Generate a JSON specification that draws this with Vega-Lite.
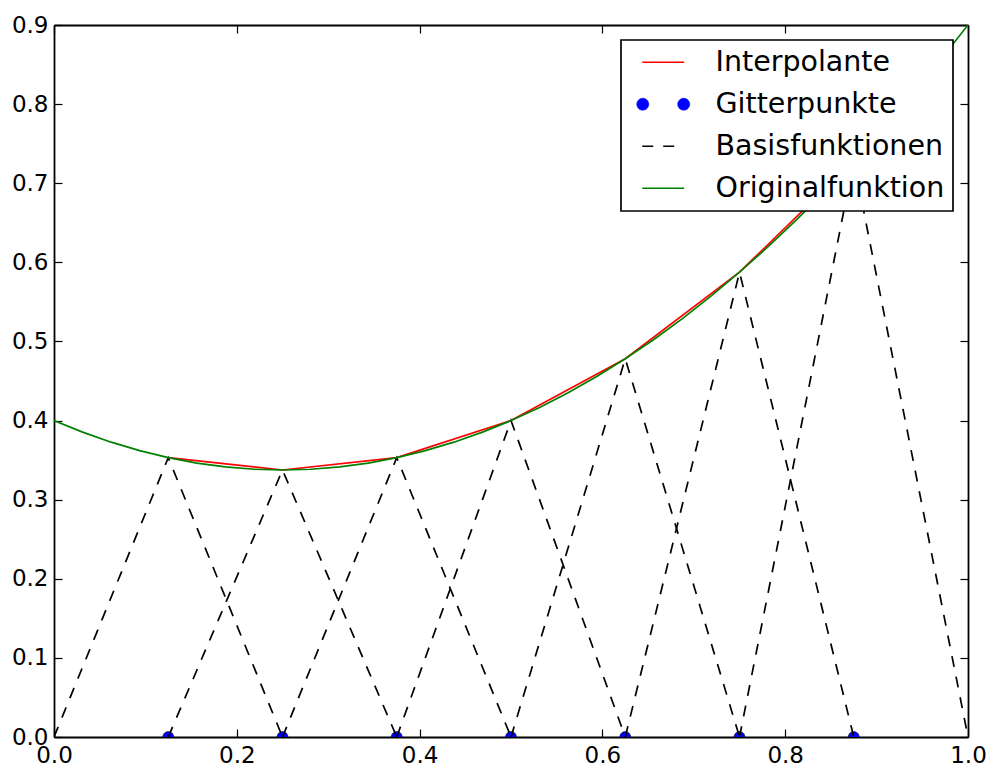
{
  "$schema": "https://vega.github.io/schema/vega-lite/v6.json",
  "autosize": {"type": "none"},
  "padding": {"left": 54, "top": 25, "right": 24, "bottom": 30},
  "width": 914,
  "height": 712,
  "background": "white",
  "config": {
    "view": {"stroke": null},
    "axis": {
      "grid": false,
      "domainColor": "black",
      "domainWidth": 1.8,
      "tickColor": "black",
      "tickWidth": 1.2,
      "tickSize": -8,
      "labelFont": "DejaVu Sans",
      "labelFontSize": 23,
      "labelColor": "black",
      "title": null
    }
  },
  "data": {
    "values": [
      {"series": "Interpolante", "x": 0.125, "y": 0.35313, "g": "i"},
      {"series": "Interpolante", "x": 0.25, "y": 0.3375, "g": "i"},
      {"series": "Interpolante", "x": 0.375, "y": 0.35313, "g": "i"},
      {"series": "Interpolante", "x": 0.5, "y": 0.4, "g": "i"},
      {"series": "Interpolante", "x": 0.625, "y": 0.47813, "g": "i"},
      {"series": "Interpolante", "x": 0.75, "y": 0.5875, "g": "i"},
      {"series": "Interpolante", "x": 0.875, "y": 0.72813, "g": "i"},
      {"series": "Gitterpunkte", "x": 0.125, "y": 0, "g": "p"},
      {"series": "Gitterpunkte", "x": 0.25, "y": 0, "g": "p"},
      {"series": "Gitterpunkte", "x": 0.375, "y": 0, "g": "p"},
      {"series": "Gitterpunkte", "x": 0.5, "y": 0, "g": "p"},
      {"series": "Gitterpunkte", "x": 0.625, "y": 0, "g": "p"},
      {"series": "Gitterpunkte", "x": 0.75, "y": 0, "g": "p"},
      {"series": "Gitterpunkte", "x": 0.875, "y": 0, "g": "p"},
      {"series": "Basisfunktionen", "x": 0.0, "y": 0, "g": "b1"},
      {"series": "Basisfunktionen", "x": 0.125, "y": 0.35313, "g": "b1"},
      {"series": "Basisfunktionen", "x": 0.25, "y": 0, "g": "b1"},
      {"series": "Basisfunktionen", "x": 0.125, "y": 0, "g": "b2"},
      {"series": "Basisfunktionen", "x": 0.25, "y": 0.3375, "g": "b2"},
      {"series": "Basisfunktionen", "x": 0.375, "y": 0, "g": "b2"},
      {"series": "Basisfunktionen", "x": 0.25, "y": 0, "g": "b3"},
      {"series": "Basisfunktionen", "x": 0.375, "y": 0.35313, "g": "b3"},
      {"series": "Basisfunktionen", "x": 0.5, "y": 0, "g": "b3"},
      {"series": "Basisfunktionen", "x": 0.375, "y": 0, "g": "b4"},
      {"series": "Basisfunktionen", "x": 0.5, "y": 0.4, "g": "b4"},
      {"series": "Basisfunktionen", "x": 0.625, "y": 0, "g": "b4"},
      {"series": "Basisfunktionen", "x": 0.5, "y": 0, "g": "b5"},
      {"series": "Basisfunktionen", "x": 0.625, "y": 0.47813, "g": "b5"},
      {"series": "Basisfunktionen", "x": 0.75, "y": 0, "g": "b5"},
      {"series": "Basisfunktionen", "x": 0.625, "y": 0, "g": "b6"},
      {"series": "Basisfunktionen", "x": 0.75, "y": 0.5875, "g": "b6"},
      {"series": "Basisfunktionen", "x": 0.875, "y": 0, "g": "b6"},
      {"series": "Basisfunktionen", "x": 0.75, "y": 0, "g": "b7"},
      {"series": "Basisfunktionen", "x": 0.875, "y": 0.72813, "g": "b7"},
      {"series": "Basisfunktionen", "x": 1.0, "y": 0, "g": "b7"},
      {"series": "Originalfunktion", "x": 0.0, "y": 0.4, "g": "o"},
      {"series": "Originalfunktion", "x": 0.03125, "y": 0.38535, "g": "o"},
      {"series": "Originalfunktion", "x": 0.0625, "y": 0.37266, "g": "o"},
      {"series": "Originalfunktion", "x": 0.09375, "y": 0.36191, "g": "o"},
      {"series": "Originalfunktion", "x": 0.125, "y": 0.35313, "g": "o"},
      {"series": "Originalfunktion", "x": 0.15625, "y": 0.34629, "g": "o"},
      {"series": "Originalfunktion", "x": 0.1875, "y": 0.34141, "g": "o"},
      {"series": "Originalfunktion", "x": 0.21875, "y": 0.33848, "g": "o"},
      {"series": "Originalfunktion", "x": 0.25, "y": 0.3375, "g": "o"},
      {"series": "Originalfunktion", "x": 0.28125, "y": 0.33848, "g": "o"},
      {"series": "Originalfunktion", "x": 0.3125, "y": 0.34141, "g": "o"},
      {"series": "Originalfunktion", "x": 0.34375, "y": 0.34629, "g": "o"},
      {"series": "Originalfunktion", "x": 0.375, "y": 0.35313, "g": "o"},
      {"series": "Originalfunktion", "x": 0.40625, "y": 0.36191, "g": "o"},
      {"series": "Originalfunktion", "x": 0.4375, "y": 0.37266, "g": "o"},
      {"series": "Originalfunktion", "x": 0.46875, "y": 0.38535, "g": "o"},
      {"series": "Originalfunktion", "x": 0.5, "y": 0.4, "g": "o"},
      {"series": "Originalfunktion", "x": 0.53125, "y": 0.4166, "g": "o"},
      {"series": "Originalfunktion", "x": 0.5625, "y": 0.43516, "g": "o"},
      {"series": "Originalfunktion", "x": 0.59375, "y": 0.45566, "g": "o"},
      {"series": "Originalfunktion", "x": 0.625, "y": 0.47813, "g": "o"},
      {"series": "Originalfunktion", "x": 0.65625, "y": 0.50254, "g": "o"},
      {"series": "Originalfunktion", "x": 0.6875, "y": 0.52891, "g": "o"},
      {"series": "Originalfunktion", "x": 0.71875, "y": 0.55723, "g": "o"},
      {"series": "Originalfunktion", "x": 0.75, "y": 0.5875, "g": "o"},
      {"series": "Originalfunktion", "x": 0.78125, "y": 0.61973, "g": "o"},
      {"series": "Originalfunktion", "x": 0.8125, "y": 0.65391, "g": "o"},
      {"series": "Originalfunktion", "x": 0.84375, "y": 0.69004, "g": "o"},
      {"series": "Originalfunktion", "x": 0.875, "y": 0.72813, "g": "o"},
      {"series": "Originalfunktion", "x": 0.90625, "y": 0.76816, "g": "o"},
      {"series": "Originalfunktion", "x": 0.9375, "y": 0.81016, "g": "o"},
      {"series": "Originalfunktion", "x": 0.96875, "y": 0.8541, "g": "o"},
      {"series": "Originalfunktion", "x": 1.0, "y": 0.9, "g": "o"}
    ]
  },
  "resolve": {"axis": {"x": "independent", "y": "independent"}},
  "layer": [
    {
      "transform": [{"filter": "datum.series === 'Interpolante'"}],
      "mark": {"type": "line", "strokeWidth": 1.7, "clip": true},
      "encoding": {
        "x": {"field": "x", "type": "quantitative",
              "scale": {"domain": [0, 1], "nice": false, "zero": false},
              "axis": {"orient": "bottom", "values": [0, 0.2, 0.4, 0.6, 0.8, 1.0], "format": ".1f", "labelPadding": 15, "labelFlush": false}},
        "y": {"field": "y", "type": "quantitative",
              "scale": {"domain": [0, 0.9], "nice": false, "zero": false},
              "axis": {"orient": "left", "values": [0, 0.1, 0.2, 0.3, 0.4, 0.5, 0.6, 0.7, 0.8, 0.9], "format": ".1f", "labelPadding": 14, "labelFlush": false}},
        "detail": {"field": "g"},
        "color": {
          "field": "series", "type": "nominal",
          "scale": {"domain": ["Interpolante", "Gitterpunkte", "Basisfunktionen", "Originalfunktion"],
                    "range": ["#ff0000", "#0000ff", "#000000", "#008000"]},
          "legend": {
            "orient": "none", "legendX": 567, "legendY": 15,
            "title": null,
            "padding": 8,
            "symbolSize": 441,
            "symbolOffset": 20,
            "labelOffset": 38,
            "rowPadding": 13,
            "labelFont": "DejaVu Sans",
            "labelFontSize": 28.5,
            "labelColor": "black",
            "labelLimit": 0,
            "strokeColor": "black",
            "fillColor": "white",
            "cornerRadius": 0,
            "symbolStrokeWidth": 1.7,
            "encode": {
              "legend": {"update": {"strokeWidth": {"value": 1.7}}},
              "symbols": {"update": {
                "shape": {"signal": "datum.value === 'Gitterpunkte' ? 'M-2.52,0a0.57,0.57 0 1,0 1.14,0a0.57,0.57 0 1,0 -1.14,0M1.38,0a0.57,0.57 0 1,0 1.14,0a0.57,0.57 0 1,0 -1.14,0' : 'M-2,0L2,0'"},
                "fill": {"signal": "datum.value === 'Gitterpunkte' ? '#0000ff' : 'transparent'"},
                "stroke": {"signal": "datum.value === 'Gitterpunkte' ? '#000000' : datum.value === 'Interpolante' ? '#ff0000' : datum.value === 'Originalfunktion' ? '#008000' : '#000000'"},
                "strokeWidth": {"signal": "datum.value === 'Gitterpunkte' ? 0.6 : 1.7"},
                "strokeDash": {"signal": "datum.value === 'Basisfunktionen' ? [11, 10] : [1, 0]"},
                "opacity": {"value": 1}
              }}
            }
          }
        }
      }
    },
    {
      "transform": [{"filter": "datum.series === 'Gitterpunkte'"}],
      "mark": {"type": "point", "shape": "circle", "filled": true, "size": 120, "stroke": "black", "strokeWidth": 0.6, "opacity": 1, "clip": true},
      "encoding": {
        "x": {"field": "x", "type": "quantitative", "axis": null},
        "y": {"field": "y", "type": "quantitative", "axis": null},
        "color": {"field": "series", "type": "nominal"}
      }
    },
    {
      "transform": [{"filter": "datum.series === 'Basisfunktionen'"}],
      "mark": {"type": "line", "strokeWidth": 1.7, "strokeDash": [11, 10], "clip": true},
      "encoding": {
        "x": {"field": "x", "type": "quantitative", "axis": null},
        "y": {"field": "y", "type": "quantitative", "axis": null},
        "detail": {"field": "g"},
        "color": {"field": "series", "type": "nominal"}
      }
    },
    {
      "transform": [{"filter": "datum.series === 'Originalfunktion'"}],
      "mark": {"type": "line", "strokeWidth": 1.7, "clip": true},
      "encoding": {
        "x": {"field": "x", "type": "quantitative",
              "axis": {"orient": "top", "values": [0, 0.2, 0.4, 0.6, 0.8, 1.0], "labels": false}},
        "y": {"field": "y", "type": "quantitative",
              "axis": {"orient": "right", "values": [0, 0.1, 0.2, 0.3, 0.4, 0.5, 0.6, 0.7, 0.8, 0.9], "labels": false}},
        "detail": {"field": "g"},
        "color": {"field": "series", "type": "nominal"}
      }
    }
  ]
}
